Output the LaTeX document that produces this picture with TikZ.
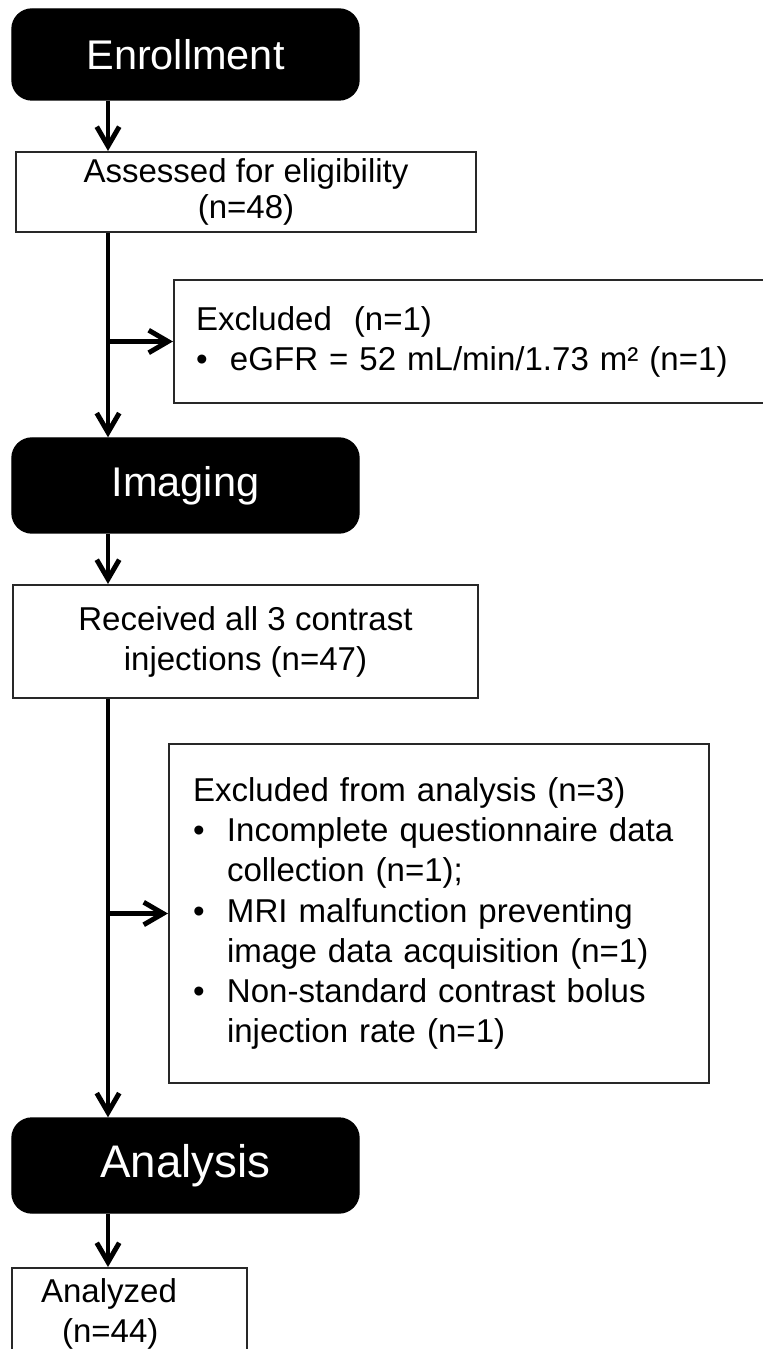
\documentclass[tikz,border=0pt]{standalone}
\usepackage{fontspec}
\setmainfont{Liberation Sans}
\usepackage{xcolor}
\definecolor{InkBlack}{RGB}{0,0,0}
\definecolor{FrameGray}{RGB}{40,40,40}
\usetikzlibrary{arrows.meta}
\newcommand{\exbullet}{\makebox[0.34cm][l]{\textbullet}}
\newcommand{\exindent}{\hspace*{0.34cm}}

\begin{document}
\begin{tikzpicture}[
    phase/.style={
        draw=InkBlack, fill=InkBlack, rounded corners=0.2cm,
        minimum width=3.47cm, minimum height=0.95cm,
        font=\fontsize{11.8}{14}\selectfont, text=white,
        inner sep=0pt
    },
    countbox/.style={
        draw=FrameGray, line width=0.6pt,
        font=\fontsize{9.4}{11.4}\selectfont,
        align=center, inner sep=0pt
    },
    exclbox/.style={
        draw=FrameGray, line width=0.6pt,
        font=\fontsize{9.4}{11.4}\selectfont,
        align=left, inner ysep=0pt
    },
    flow/.style={
        -{Straight Barb[length=5.5pt,width=6.4pt]}, line width=1.4pt, draw=InkBlack
    }
]
\useasboundingbox (0,0) rectangle (7.63,-13.49);

% ====== PHASES (boites noires) ======
\node[phase, minimum height=0.91cm] (enroll)   at (1.855, -0.545)  {Enrollment};
\node[phase] (imaging)  at (1.855, -4.855)  {Imaging};
\node[phase, font=\fontsize{13}{15}\selectfont] (analysis) at (1.855, -11.655) {Analysis};

% ====== EFFECTIFS ======
\node[countbox, minimum width=4.60cm, minimum height=0.80cm,
      font=\fontsize{9.4}{10.2}\selectfont] (assess)  at (2.46, -1.92)
    {Assessed for eligibility\\(n=48)};
\node[countbox, minimum width=4.65cm, minimum height=1.13cm] (receive) at (2.455, -6.415)
    {Received all 3 contrast\\injections (n=47)};
\node[countbox, align=left, text width=1.77cm, inner xsep=0.29cm,
      minimum height=0.92cm, anchor=north] (analyzed) at (1.295, -12.67)
    {Analyzed\\\hspace*{0.21cm}(n=44)};

% ====== EXCLUSIONS ======
\node[exclbox, inner xsep=0.22cm, text width=5.82cm, minimum height=1.23cm] (excl1) at (4.87, -3.415)
    {Excluded~~(n=1)\\
     \exbullet eGFR = 52 mL/min/1.73 m\char"00B2{} (n=1)};
\node[exclbox, inner xsep=0.24cm, text width=4.92cm, minimum height=3.39cm] (excl2) at (4.39, -9.135)
    {Excluded from analysis (n=3)\\
     \exbullet Incomplete questionnaire data\\
     \exindent collection (n=1);\\
     \exbullet MRI malfunction preventing\\
     \exindent image data acquisition (n=1)\\
     \exbullet Non-standard contrast bolus\\
     \exindent injection rate (n=1)};

% ====== FLECHES ======
\coordinate (spine) at (1.08, 0);
\foreach \a/\b in {enroll/assess, assess/imaging, imaging/receive, receive/analysis, analysis/analyzed}
    \draw[flow] (\a.south -| spine) -- (\b.north -| spine);

\draw[flow] (spine |- excl1.west) -- (excl1.west);
\draw[flow] (spine |- excl2.west) -- (excl2.west);

\end{tikzpicture}
\end{document}
